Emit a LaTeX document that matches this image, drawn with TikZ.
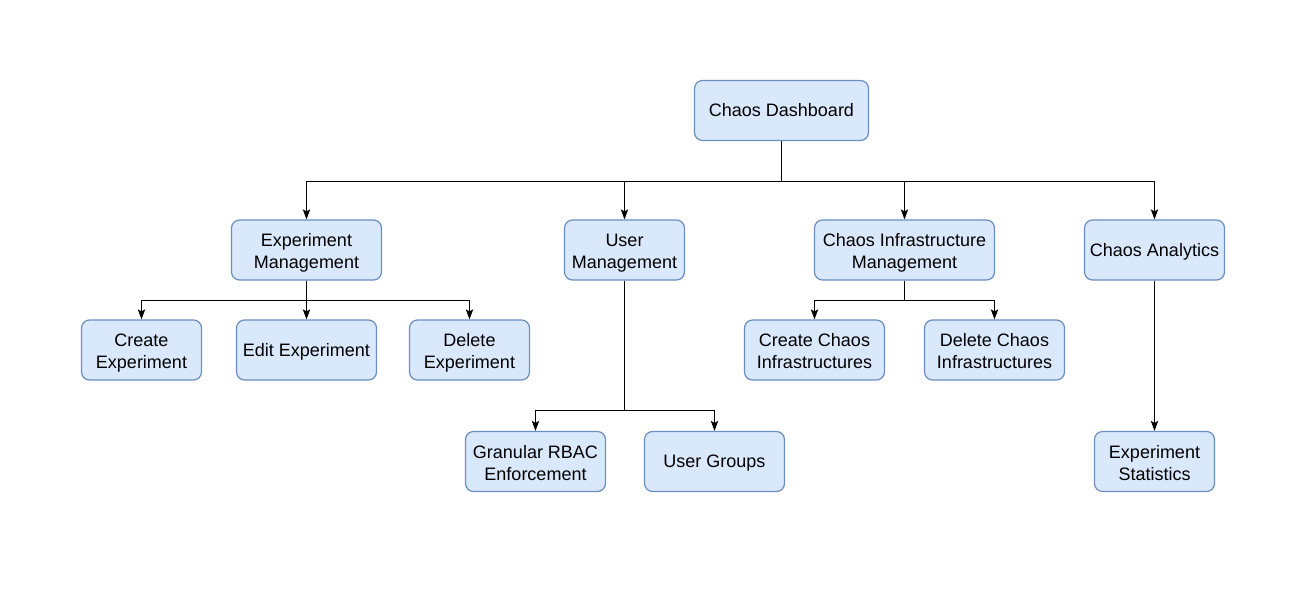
\documentclass[tikz,border=0pt]{standalone}
\usepackage{fontspec}
\setmainfont{Liberation Sans}
\usetikzlibrary{arrows.meta}
\definecolor{boxfill}{HTML}{DAE8FC}
\definecolor{boxline}{HTML}{6C8EBF}
\newcommand\mytwolines[3]{%
  \node[txt] (#1-a) at ([yshift=2.6pt]#1.center) {#2};
  \node[txt] (#1-b) at ([yshift=-14.1pt]#1.center) {#3};}
\newcommand\myoneline[2]{%
  \node[txt] (#1-a) at ([yshift=-4.7pt]#1.center) {#2};}
\begin{document}
\begin{tikzpicture}[x=0.75pt,y=-0.75pt,
  box/.style={draw=boxline,fill=boxfill,line width=0.9pt,rounded corners=6pt,
    minimum height=45pt,inner sep=0pt},
  txt/.style={anchor=base,inner sep=0pt,font=\fontsize{13.5}{16.5}\selectfont},
  arr/.style={draw=black,line width=0.9pt,-{Stealth[length=7.5pt,width=5.5pt,inset=1.5pt]}}]
\useasboundingbox (0,0) rectangle (1315,590);
\node[box,minimum width=130.5pt] (dash) at (781.5,110.5) {};
\node[box,minimum width=112.5pt] (em) at (306.5,250) {};
\node[box,minimum width=90pt] (um) at (624.5,250) {};
\node[box,minimum width=135pt] (ci) at (904.5,250) {};
\node[box,minimum width=105pt] (ca) at (1154.5,250) {};
\node[box,minimum width=90pt] (ce) at (141.5,350) {};
\node[box,minimum width=105pt] (ee) at (306.5,350) {};
\node[box,minimum width=90pt] (de) at (469.5,350) {};
\node[box,minimum width=105pt] (cc) at (814.5,350) {};
\node[box,minimum width=105pt] (dc) at (994.5,350) {};
\node[box,minimum width=105pt] (rb) at (535.5,461.5) {};
\node[box,minimum width=105pt] (ug) at (714.5,461.5) {};
\node[box,minimum width=90pt] (es) at (1154.5,461.5) {};
\myoneline{dash}{Chaos Dashboard}
\mytwolines{em}{Experiment}{Management}
\mytwolines{um}{User}{Management}
\mytwolines{ci}{Chaos Infrastructure}{Management}
\myoneline{ca}{Chaos Analytics}
\mytwolines{ce}{Create}{Experiment}
\myoneline{ee}{Edit Experiment}
\mytwolines{de}{Delete}{Experiment}
\mytwolines{cc}{Create Chaos}{Infrastructures}
\mytwolines{dc}{Delete Chaos}{Infrastructures}
\mytwolines{rb}{Granular RBAC}{Enforcement}
\myoneline{ug}{User Groups}
\mytwolines{es}{Experiment}{Statistics}
% dashboard
\foreach \c in {em,um,ci,ca}{\draw[arr] (dash.south) -- ++(0,40) -| (\c.north);}
% experiment management
\foreach \c in {ce,ee,de}{\draw[arr] (em.south) -- ++(0,20) -| (\c.north);}
% user management
\foreach \c in {rb,ug}{\draw[arr] (um.south) -- ++(0,130) -| (\c.north);}
% chaos infrastructure
\foreach \c in {cc,dc}{\draw[arr] (ci.south) -- ++(0,20) -| (\c.north);}
% analytics
\draw[arr] (ca.south) -- (es.north);
\end{tikzpicture}
\end{document}
